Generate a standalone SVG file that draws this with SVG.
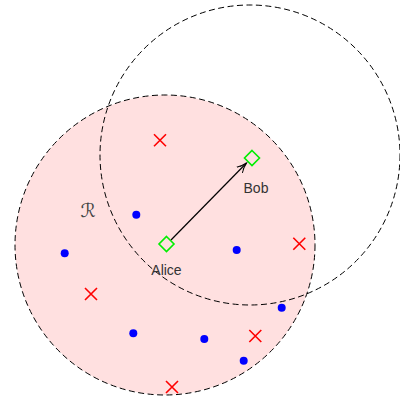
<svg xmlns="http://www.w3.org/2000/svg" width="400" height="396" viewBox="0 0 400 396">
<defs>
<style>
.circ{fill:none;stroke:#000;stroke-width:1;stroke-dasharray:6,3.5}
.dot{fill:#0000ff}
.cross{stroke:#ff0000;stroke-width:1.6;fill:none}
.dia{fill:none;stroke:#00ee00;stroke-width:1.6}
.lbl{font-family:"Liberation Sans",Arial,sans-serif;font-size:14px;fill:#333;text-anchor:middle}
</style>
<marker id="arr" markerWidth="12" markerHeight="10" refX="10" refY="5" orient="auto" markerUnits="userSpaceOnUse">
<path d="M0,1 Q5,4 10,5 Q5,6 0,9 M3,3 L10,5 L3,7" fill="none" stroke="#000" stroke-width="1"/>
</marker>
</defs>
<g id="region">
<circle cx="165" cy="245" r="150" fill="#ffe0e0"/>
<circle class="circ" cx="165" cy="245" r="150"/>
</g>
<g id="bob-range">
<circle class="circ" cx="250" cy="155" r="150"/>
</g>
<g id="points">
<circle class="dot" cx="136.3" cy="214.7" r="4"/>
<circle class="dot" cx="64.7" cy="253.3" r="4"/>
<circle class="dot" cx="236.7" cy="250" r="4"/>
<circle class="dot" cx="281.7" cy="307.7" r="4"/>
<circle class="dot" cx="133.3" cy="333.3" r="4"/>
<circle class="dot" cx="204.3" cy="339" r="4"/>
<circle class="dot" cx="243.7" cy="360.7" r="4"/>
</g>
<g id="crosses">
<path class="cross" d="M154,134.3 l12,12 M166,134.3 l-12,12"/>
<path class="cross" d="M293.3,237.7 l12,12 M305.3,237.7 l-12,12"/>
<path class="cross" d="M85,288 l12,12 M97,288 l-12,12"/>
<path class="cross" d="M249.3,330 l12,12 M261.3,330 l-12,12"/>
<path class="cross" d="M166,381 l12,12 M178,381 l-12,12"/>
</g>
<g id="connectors">
<line x1="171" y1="240" x2="246.5" y2="163" stroke="#000" stroke-width="1.2" marker-end="url(#arr)"/>
</g>
<g id="alice">
<path class="dia" d="M166.5,236.5 L174,244 L166.5,251.5 L159,244 Z"/>
<text class="lbl" x="166.5" y="275">Alice</text>
</g>
<g id="bob">
<path class="dia" d="M252,150.5 L259.5,158 L252,165.5 L244.5,158 Z"/>
<text class="lbl" x="256" y="193">Bob</text>
</g>
<g id="label-R">
<text x="88" y="217" font-family="DejaVu Sans,sans-serif" font-size="19" fill="#444" text-anchor="middle">ℛ</text>
</g>
</svg>
